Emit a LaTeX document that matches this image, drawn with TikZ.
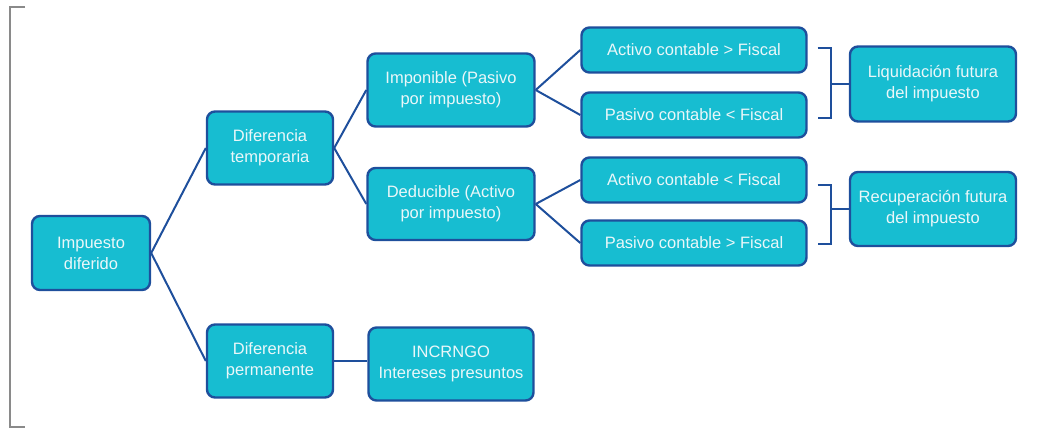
\documentclass[tikz,border=0pt]{standalone}
\usepackage{fontspec}
\setmainfont{Liberation Sans}
\definecolor{boxfill}{HTML}{17BDD1}
\definecolor{boxline}{HTML}{1E4F9C}
\definecolor{boxtext}{HTML}{EAF7F9}
\definecolor{framegray}{HTML}{8A8A8A}
\begin{document}
\begin{tikzpicture}[x=1pt,y=-1pt,
  box/.style={draw=boxline, line width=2.4pt, fill=boxfill, rounded corners=8pt,
    text=boxtext, align=center, inner sep=0pt,
    font=\fontsize{16.5}{21}\selectfont},
  conn/.style={draw=boxline, line width=2pt},
]
\useasboundingbox (0,0) rectangle (1041,428);
\draw[framegray, line width=1.5pt] (25,7) -- (10,7) -- (10,427) -- (25,427);

\node[box, minimum width=118, minimum height=74] (imp) at (91,253) {Impuesto\\diferido};
\node[box, minimum width=126, minimum height=73] (temp) at (270,148) {Diferencia\\temporaria};
\node[box, minimum width=126, minimum height=73] (perm) at (270,361) {Diferencia\\permanente};
\node[box, minimum width=167, minimum height=73] (impo) at (451,90) {Imponible (Pasivo\\por impuesto)};
\node[box, minimum width=167, minimum height=72] (dedu) at (451,204) {Deducible (Activo\\por impuesto)};
\node[box, minimum width=165, minimum height=73] (incr) at (451,364) {INCRNGO\\Intereses presuntos};
\node[box, minimum width=225, minimum height=45] (a1) at (694,50) {Activo contable > Fiscal};
\node[box, minimum width=225, minimum height=45] (p1) at (694,115) {Pasivo contable < Fiscal};
\node[box, minimum width=225, minimum height=45] (a2) at (694,180) {Activo contable < Fiscal};
\node[box, minimum width=225, minimum height=45] (p2) at (694,243) {Pasivo contable > Fiscal};
\node[box, minimum width=166, minimum height=75] (liq) at (933,84) {Liquidación futura\\del impuesto};
\node[box, minimum width=166, minimum height=74] (rec) at (933,209) {Recuperación futura\\del impuesto};

\begin{scope}[on background layer/.try]
\end{scope}
\draw[conn] (imp.east) -- (temp.west);
\draw[conn] (imp.east) -- (perm.west);
\draw[conn] (temp.east) -- (impo.west);
\draw[conn] (temp.east) -- (dedu.west);
\draw[conn] (impo.east) -- (a1.west);
\draw[conn] (impo.east) -- (p1.west);
\draw[conn] (dedu.east) -- (a2.west);
\draw[conn] (dedu.east) -- (p2.west);
\draw[conn] (perm.east) -- (perm.east -| incr.west);

\draw[conn] ([xshift=10pt,yshift=2pt]a1.east) -- ++(13,0) coordinate (b1t)
  -- ([xshift=23pt,yshift=-3pt]p1.east) -- ([xshift=10pt,yshift=-3pt]p1.east);
\draw[conn] (b1t |- liq.west) -- (liq.west);
\draw[conn] ([xshift=10pt,yshift=-5pt]a2.east) -- ++(13,0) coordinate (b2t)
  -- ([xshift=23pt,yshift=-1pt]p2.east) -- ([xshift=10pt,yshift=-1pt]p2.east);
\draw[conn] (b2t |- rec.west) -- (rec.west);
\end{tikzpicture}
\end{document}
